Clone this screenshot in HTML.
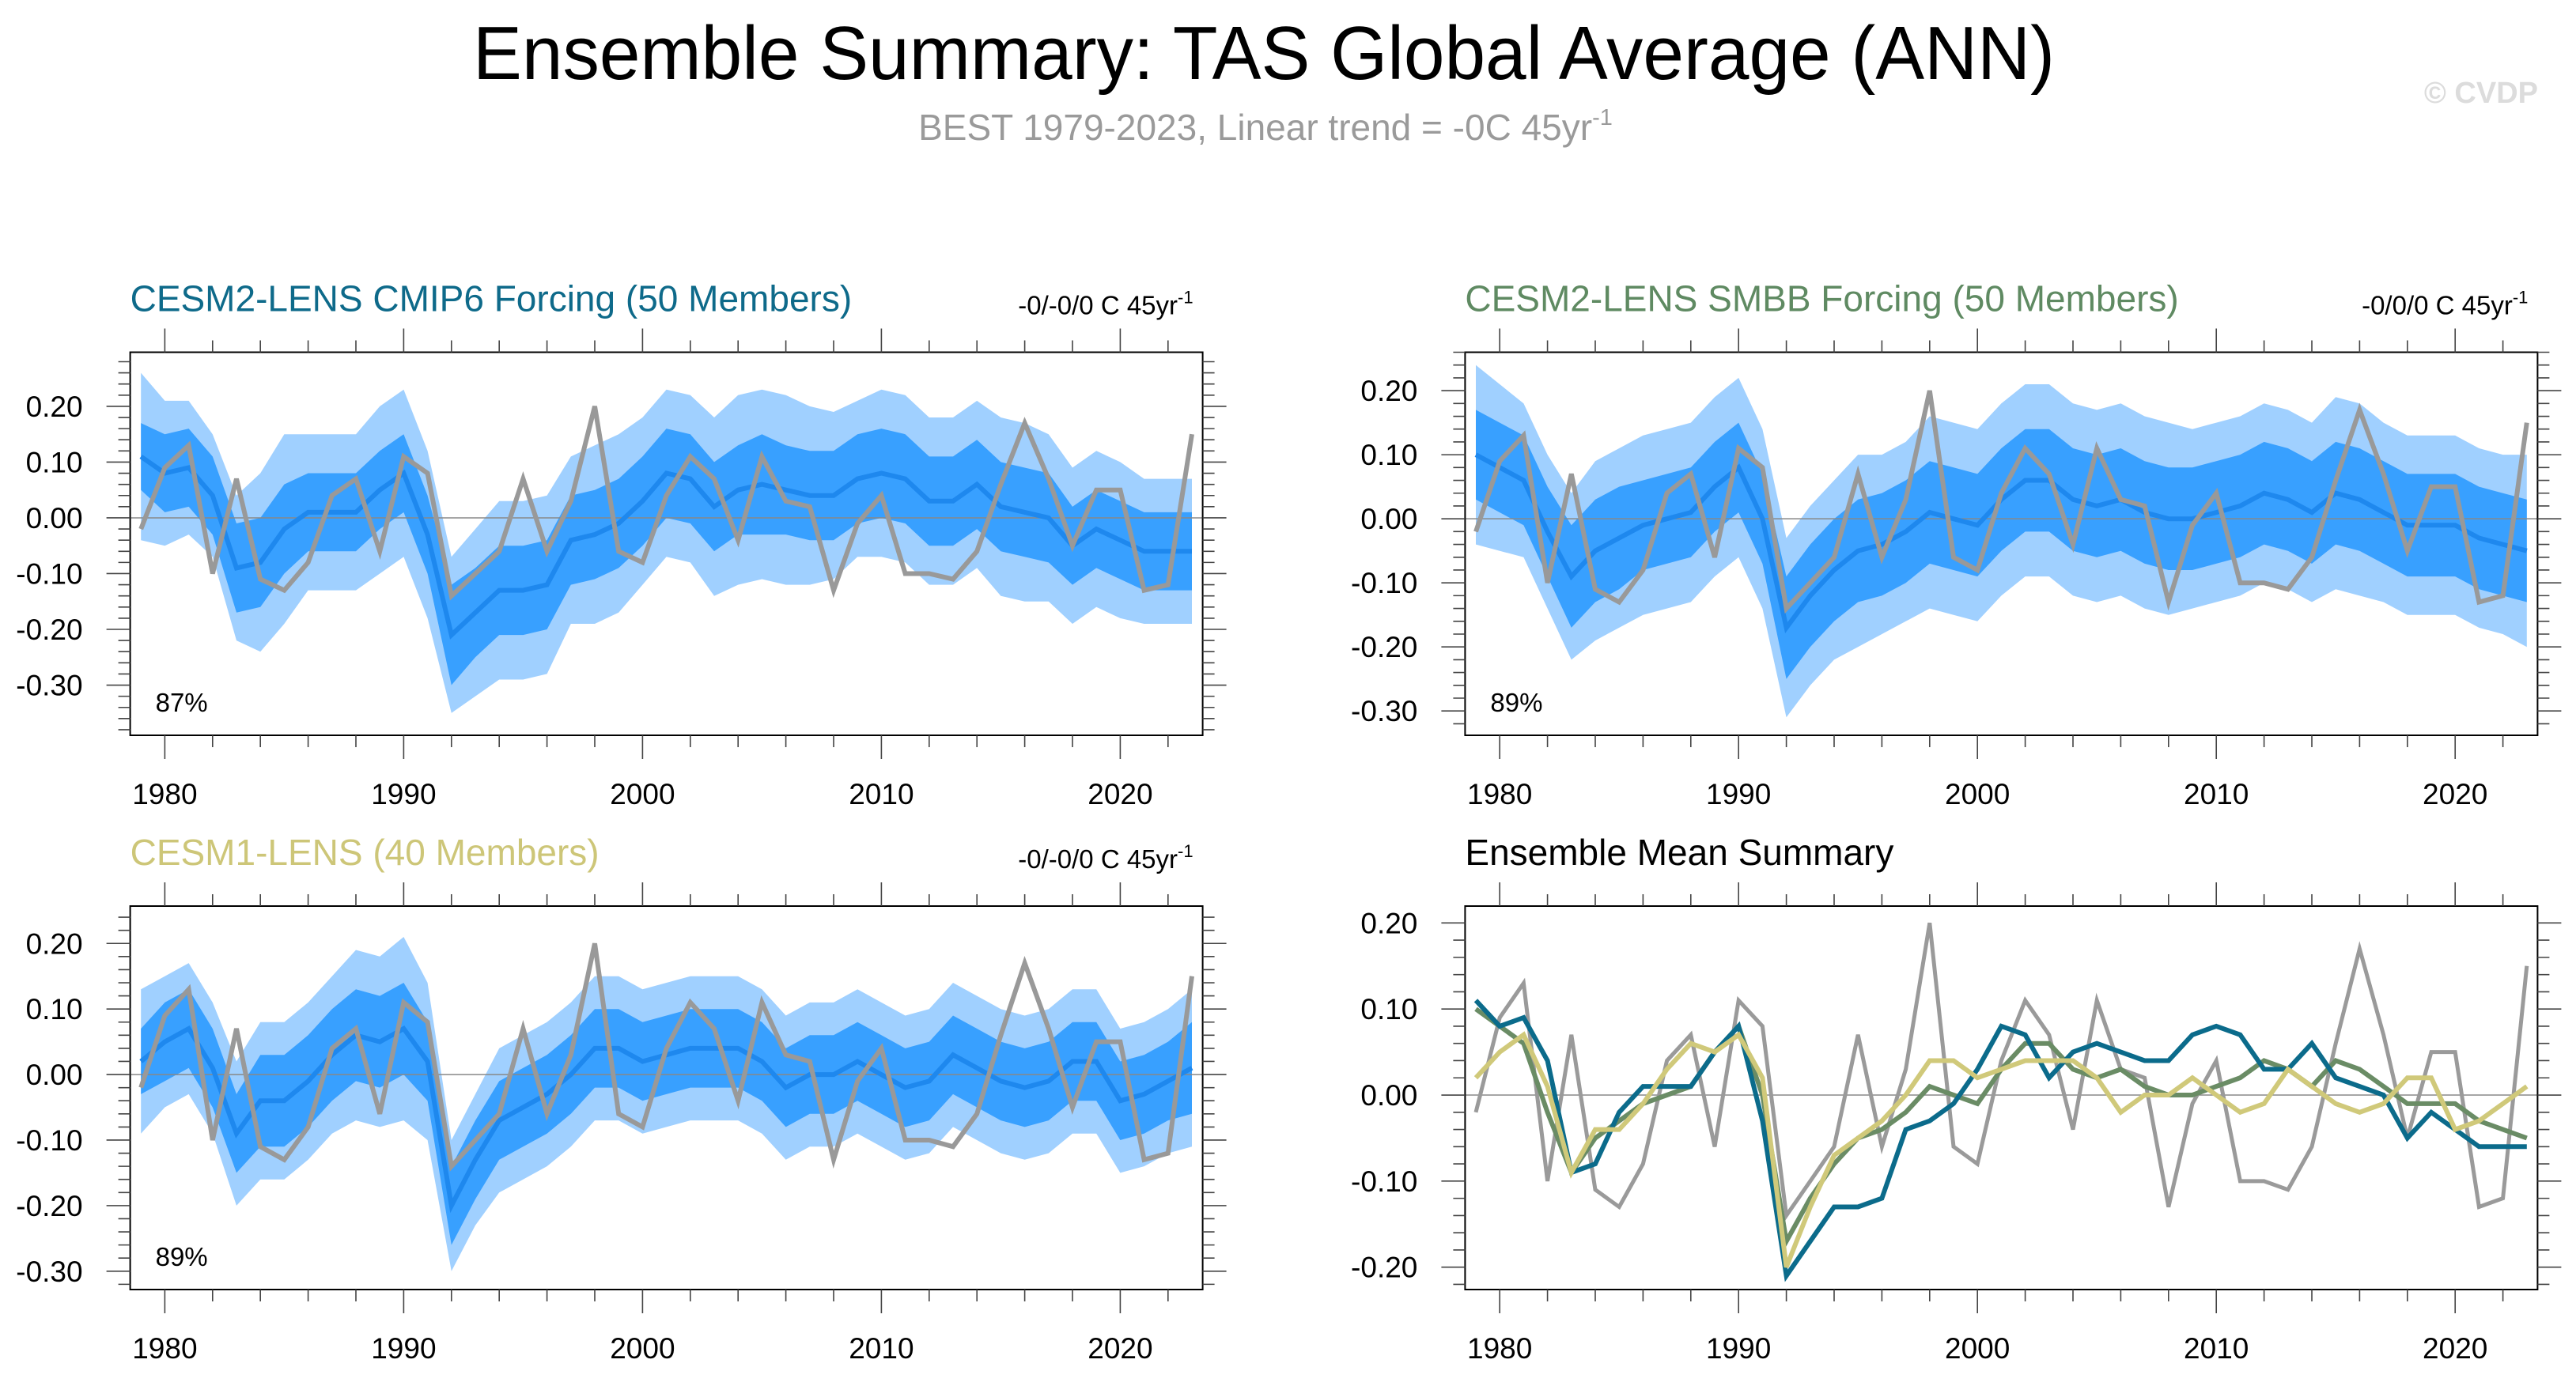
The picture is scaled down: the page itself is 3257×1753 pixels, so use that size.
<!DOCTYPE html>
<html><head><meta charset="utf-8"><style>
html,body{margin:0;padding:0;background:#fff}
svg{display:block;font-family:"Liberation Sans",sans-serif}
</style></head><body>
<svg id="chart" width="3257" height="1753" viewBox="0 0 3257 1753" xmlns="http://www.w3.org/2000/svg">
<text x="1598" y="100" font-size="96" text-anchor="middle" textLength="2000" lengthAdjust="spacingAndGlyphs">Ensemble Summary: TAS Global Average (ANN)</text>
<text x="1600" y="177" font-size="46" fill="#9a9a9a" text-anchor="middle">BEST 1979-2023, Linear trend = -0C 45yr<tspan font-size="29" dy="-19">-1</tspan></text>
<text x="3209" y="130" font-size="38" font-weight="bold" fill="#dcdcdc" text-anchor="end">© CVDP</text>
<g id="panels"></g>
</svg>
<script>
const years=[];for(let y=1979;y<=2023;y++)years.push(y);
const obs=[-0.02,0.09,0.13,-0.10,0.07,-0.11,-0.13,-0.08,0.04,0.07,-0.06,0.11,0.08,-0.14,-0.10,-0.06,0.07,-0.06,0.03,0.20,-0.06,-0.08,0.04,0.11,0.07,-0.04,0.11,0.03,0.02,-0.13,-0.01,0.04,-0.10,-0.10,-0.11,-0.06,0.06,0.17,0.07,-0.05,0.05,0.05,-0.13,-0.12,0.15];
const cmip6Mean=[0.11,0.08,0.09,0.04,-0.09,-0.08,-0.02,0.01,0.01,0.01,0.05,0.08,-0.03,-0.21,-0.17,-0.13,-0.13,-0.12,-0.04,-0.03,-0.01,0.03,0.08,0.07,0.02,0.05,0.06,0.05,0.04,0.04,0.07,0.08,0.07,0.03,0.03,0.06,0.02,0.01,0.00,-0.05,-0.02,-0.04,-0.06,-0.06,-0.06];
const smbbMean=[0.10,0.08,0.06,-0.02,-0.09,-0.05,-0.03,-0.01,0.00,0.01,0.05,0.08,0.00,-0.17,-0.12,-0.08,-0.05,-0.04,-0.02,0.01,0.00,-0.01,0.03,0.06,0.06,0.03,0.02,0.03,0.01,0.00,0.00,0.01,0.02,0.04,0.03,0.01,0.04,0.03,0.01,-0.01,-0.01,-0.01,-0.03,-0.04,-0.05];
const cesm1Mean=[0.02,0.05,0.07,0.01,-0.09,-0.04,-0.04,-0.01,0.03,0.06,0.05,0.07,0.02,-0.20,-0.13,-0.07,-0.05,-0.03,0.00,0.04,0.04,0.02,0.03,0.04,0.04,0.04,0.02,-0.02,0.00,0.00,0.02,0.00,-0.02,-0.01,0.03,0.01,-0.01,-0.02,-0.01,0.02,0.02,-0.04,-0.03,-0.01,0.01];
const cmip6Outer=[0.15,0.13,0.12,0.11,0.13,0.16,0.17,0.14,0.14,0.14,0.15,0.15,0.15,0.14,0.15,0.16,0.16,0.16,0.15,0.16,0.16,0.15,0.15,0.15,0.16,0.17,0.17,0.17,0.16,0.15,0.14,0.15,0.15,0.15,0.15,0.15,0.16,0.16,0.15,0.14,0.14,0.14,0.13,0.13,0.13];
const cmip6Inner=[0.06,0.07,0.07,0.07,0.08,0.08,0.08,0.07,0.07,0.07,0.07,0.07,0.07,0.09,0.08,0.08,0.08,0.08,0.08,0.08,0.08,0.08,0.08,0.08,0.08,0.08,0.09,0.08,0.08,0.08,0.08,0.08,0.08,0.08,0.08,0.08,0.08,0.08,0.08,0.07,0.07,0.07,0.07,0.07,0.07];
const smbbOuter=[0.14,0.13,0.12,0.12,0.13,0.14,0.14,0.14,0.14,0.14,0.14,0.14,0.14,0.14,0.14,0.14,0.15,0.14,0.14,0.15,0.15,0.15,0.15,0.15,0.15,0.15,0.15,0.15,0.15,0.15,0.14,0.14,0.14,0.14,0.14,0.14,0.15,0.15,0.14,0.14,0.14,0.14,0.14,0.14,0.15];
const smbbInner=[0.07,0.07,0.07,0.07,0.08,0.08,0.08,0.07,0.07,0.07,0.07,0.07,0.07,0.08,0.08,0.08,0.08,0.08,0.08,0.08,0.08,0.08,0.08,0.08,0.08,0.08,0.08,0.08,0.08,0.08,0.08,0.08,0.08,0.08,0.08,0.08,0.08,0.08,0.08,0.08,0.08,0.08,0.08,0.08,0.08];
const cesm1Outer=[0.11,0.10,0.10,0.10,0.11,0.12,0.12,0.12,0.12,0.13,0.13,0.14,0.12,0.10,0.10,0.11,0.11,0.11,0.11,0.11,0.11,0.11,0.11,0.11,0.11,0.11,0.11,0.11,0.11,0.11,0.11,0.11,0.11,0.11,0.11,0.11,0.11,0.11,0.11,0.11,0.11,0.11,0.11,0.11,0.12];
const cesm1Inner=[0.05,0.06,0.06,0.06,0.06,0.07,0.07,0.07,0.07,0.07,0.07,0.07,0.06,0.06,0.06,0.06,0.06,0.06,0.06,0.06,0.06,0.06,0.06,0.06,0.06,0.06,0.06,0.06,0.06,0.06,0.06,0.06,0.06,0.06,0.06,0.06,0.06,0.06,0.06,0.06,0.06,0.06,0.06,0.06,0.07];
const yTicksA=[0.20,0.10,0.00,-0.10,-0.20,-0.30];
const yTicksB=[0.20,0.10,0.00,-0.10,-0.20];
const xTicks=[1980,1990,2000,2010,2020];

const NS="http://www.w3.org/2000/svg";
const root=document.getElementById('panels');
function mk(tag,attrs,parent){const e=document.createElementNS(NS,tag);for(const k in attrs)e.setAttribute(k,attrs[k]);(parent||root).appendChild(e);return e;}

const X0=1978.55,X1=2023.45;
const panels=[
 {name:'cmip6',L:164.6,T:445.5,W:1356,H:484.5,ymax:0.297,ymin:-0.39,ticks:yTicksA,title:'CESM2-LENS CMIP6 Forcing (50 Members)',tcolor:'#0e6a8a',trend:'-0/-0/0 C 45yr',pct:'87%',mean:cmip6Mean,outer:cmip6Outer,inner:cmip6Inner},
 {name:'smbb',L:1852.4,T:445.5,W:1356,H:484.5,ymax:0.26,ymin:-0.338,ticks:yTicksA,title:'CESM2-LENS SMBB Forcing (50 Members)',tcolor:'#5f8a62',trend:'-0/0/0 C 45yr',pct:'89%',mean:smbbMean,outer:smbbOuter,inner:smbbInner},
 {name:'cesm1',L:164.6,T:1146,W:1356,H:485,ymax:0.257,ymin:-0.328,ticks:yTicksA,title:'CESM1-LENS (40 Members)',tcolor:'#cdc678',trend:'-0/-0/0 C 45yr',pct:'89%',mean:cesm1Mean,outer:cesm1Outer,inner:cesm1Inner},
 {name:'summary',L:1852.4,T:1146,W:1356,H:485,ymax:0.2196,ymin:-0.226,ticks:yTicksB,title:'Ensemble Mean Summary',tcolor:'#000',summary:true}
];

panels.forEach(p=>{
 const g=mk('g',{});
 
 
 const xs=v=>p.L+(v-X0)/(X1-X0)*p.W;
 const ys=v=>p.T+(p.ymax-v)/(p.ymax-p.ymin)*p.H;
 const clipId='clip-'+p.name;
 const cp=mk('clipPath',{id:clipId},g);mk('rect',{x:p.L,y:p.T,width:p.W,height:p.H},cp);
 const pg=mk('g',{'clip-path':'url(#'+clipId+')'},g);
 const line=(arr,color,w,nm)=>{
  const d=arr.map((v,i)=>(i?'L':'M')+xs(years[i]).toFixed(1)+','+ys(v).toFixed(1)).join('');
  const e=mk('path',{d:d,fill:'none',stroke:color,'stroke-width':w,'stroke-linejoin':'miter'},pg);
  
  
 };
 const band=(mean,wd,color,nm)=>{
  let d='';mean.forEach((m,i)=>{d+=(i?'L':'M')+xs(years[i]).toFixed(1)+','+ys(m+wd[i]).toFixed(1);});
  for(let i=mean.length-1;i>=0;i--)d+='L'+xs(years[i]).toFixed(1)+','+ys(mean[i]-wd[i]).toFixed(1);
  const e=mk('path',{d:d+'Z',fill:color},pg);
  
  
 };
 if(!p.summary){
  band(p.mean,p.outer,'#a0d0ff','outer-spread-band');
  band(p.mean,p.inner,'#38a0ff','inner-spread-band');
 }
 const z=mk('line',{x1:p.L,x2:p.L+p.W,y1:ys(0),y2:ys(0),stroke:'#888','stroke-width':1.5},pg);
 
 
 if(!p.summary){
  line(p.mean,'#1e88ee',6,'ensemble-mean-line');
  line(obs,'#999999',6,'observed-line');
 } else {
  line(obs,'#9a9a9a',5,'observed-line');
  line(smbbMean,'#6a8c65',6,'smbb-mean-line');
  line(cmip6Mean,'#0b6b8b',6,'cmip6-mean-line');
  line(cesm1Mean,'#d0c97a',6,'cesm1-mean-line');
 }
 const box=mk('rect',{x:p.L,y:p.T,width:p.W,height:p.H,fill:'none',stroke:'#000','stroke-width':2},g);
 
 
 let td='';
 for(let yr=1980;yr<=2022;yr+=2){const x=xs(yr),len=(yr%10===0)?30:15;td+=`M${x},${p.T}v-${len}M${x},${p.T+p.H}v${len}`;}
 const step=0.02;
 for(let k=Math.ceil(p.ymin/step);k<=Math.floor(p.ymax/step);k++){const v=k*step,y=ys(v),len=(k%5===0)?30:15;td+=`M${p.L},${y}h-${len}M${p.L+p.W},${y}h${len}`;}
 const tk=mk('path',{d:td,stroke:'#444','stroke-width':1.6,fill:'none'},g);
 
 
 p.ticks.forEach(v=>{
  const t=mk('text',{x:p.L-60,y:ys(v)+13,'font-size':37,'text-anchor':'end'},g);
  t.textContent=v.toFixed(2).replace('-0.00','0.00');
  
  
 });
 xTicks.forEach(v=>{
  const t=mk('text',{x:xs(v),y:p.T+p.H+87,'font-size':37,'text-anchor':'middle'},g);
  t.textContent=v;
  
  
 });
 const tt=mk('text',{x:p.L,y:p.T-52,'font-size':46,fill:p.tcolor},g);
 tt.textContent=p.title;
 
 
 if(p.trend){
  const tr=mk('text',{x:p.L+p.W-12,y:p.T-48,'font-size':33,'text-anchor':'end'},g);
  tr.textContent=p.trend;
  const sup=mk('tspan',{'font-size':22,dy:-14},tr);sup.textContent='-1';
  
  
  const pc=mk('text',{x:p.L+32,y:p.T+p.H-30,'font-size':33},g);
  pc.textContent=p.pct;
  
  
 }
});
</script>
</body></html>
